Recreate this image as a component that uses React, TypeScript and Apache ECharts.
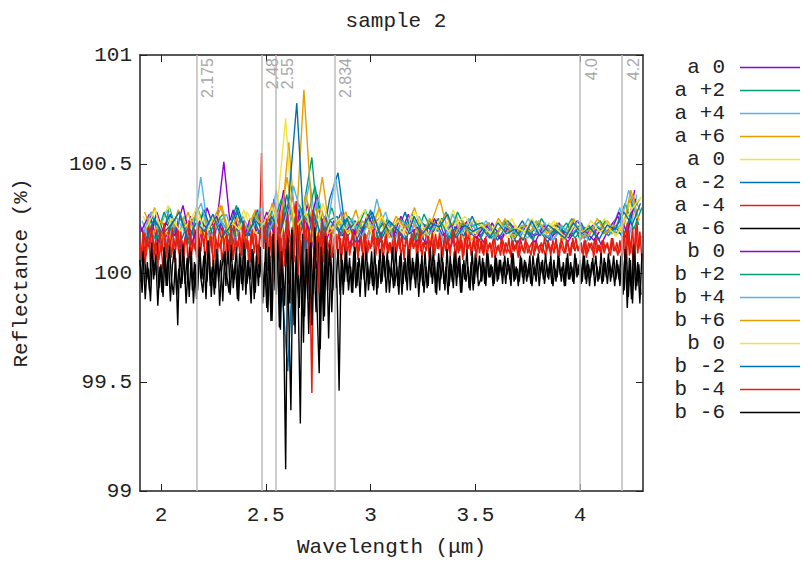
import React, { useEffect, useRef } from "react";
import * as echarts from "echarts";

// ---- wavelength sampling grids (µm) ----
const fineStart = 1.9;
const fineStep = 0.01;
const bShift = 0.005;
const coarseStart = 1.9;
const coarseStep = 0.04;

// ---- legend / series names and colours ----
const seriesNames = [
  "a 0", "a +2", "a +4", "a +6", "a 0\u200b", "a -2", "a -4", "a -6",
  "b 0", "b +2", "b +4", "b +6", "b 0\u200b", "b -2", "b -4", "b -6",
];
const seriesColors = [
  "#9400D3", "#009E73", "#56B4E9", "#E69F00", "#F0E442", "#0072B2", "#E51E10", "#000000",
  "#9400D3", "#009E73", "#56B4E9", "#E69F00", "#F0E442", "#0072B2", "#E51E10", "#000000",
];
// baseline level of each series (hundredths of a percent above 100 %)
const seriesBaseline = [4, 4, 4, 4, 4, 4, -1, 0, 4, 4, 4, 4, 4, 4, -1, 0];
// x shift of each coarse series' grid (µm)
const coarseShift = [0, 0.02, 0.01, 0.03, 0.015, 0.025, 0.005, 0.035, 0.012, 0.022, 0.032, 0.028];

// ---- reflectance deviations, in hundredths of a percent ----
const a0 = [18,8,24,12,20,6,22,10,26,14,47,9,21,13,25, 10,30,4,36,12,28,-2,22, 14,24,9,20,12,22,8,19,13,23,10,18,15,21,7,20,12, 16,10,19,12,17,9,18,13,15,11,19,10,16,12,18,9,17, 22,12,34];
const aP2 = [12,22,9,26,14,19,7,24,11,21,15,27,10,20,13, 25,8,32,14,26,49,6,20, 22,11,18,14,25,9,21,13,17,23,10,20,15,24,12,19,14, 11,18,14,20,10,17,13,19,12,16,14,21,11,18,13,20,15, 14,30,18];
const aP4 = [20,10,16,25,8,22,13,40,12,23,16,9,22,14,20, 12,34,8,26,18,38,10,24, 9,21,15,19,11,30,14,18,10,22,16,13,20,9,18,15,21, 14,17,10,19,13,16,12,20,14,11,18,13,17,10,19,14,16, 26,10,32];
const aP6 = [16,26,11,20,14,24,9,21,17,27,12,22,15,25,10, 28,14,56,6,32,16,40,12, 20,14,25,11,18,22,12,21,16,26,13,19,30,15,22,10,20, 17,12,21,15,18,11,20,14,16,19,13,21,12,17,15,20,13, 20,32,24];
const a0b = [22,14,18,27,11,20,16,24,9,22,18,13,25,15,21, 16,26,67,10,30,14,22,18, 16,23,12,20,17,24,11,19,14,22,18,12,21,16,25,13,19, 20,13,17,15,21,12,18,16,14,20,11,19,15,17,13,21,16, 16,28,20];
const aM2 = [11,20,15,23,8,18,12,25,14,19,10,24,13,21,16, 20,6,-49,28,14,24,8,30, 42,12,20,15,22,10,18,14,24,11,19,16,21,9,17,13,22, 13,19,11,17,14,20,12,16,10,18,15,13,19,11,17,14,18, 12,24,30];
const aM4 = [
  15,6,21,9,24,4,18,11,22,7, 14,3,19,10,23,8,17,12,25,5, 16,9,22,4,19,13,21,8,17,11,
  24,6,15,10,20,3,18,12,23,7, 13,21,5,19,9,24,11,16,6,22, 10,18,4,20,14,23,7,17,56,12,
  26,2,22,8,28,0,20,6,30,4, 24,-4,18,10,32,2,26,-2,22,12, 28,6,-54,24,8,20,0,26,10,18, 4,22,
  8,18,12,21,6,17,10,20,9,15, 13,22,7,18,11,19,8,16,12,21, 9,17,13,20,6,18,11,15,10,22,
  8,16,12,19,7,20,10,17,13,21, 9,18,11,15,14,22,7,17,10,19, 12,20,8,16,11,18,9,21,13,15,
  10,19,7,17,12,20,9,16,11,18,
  10,16,9,17,12,15,8,18,11,14, 9,16,13,10,17,8,15,12,16,9, 14,11,17,10,13,15,9,16,12,14,
  10,17,11,15,9,16,12,14,8,17, 13,10,16,9,15,12,17,11,14,10, 16,8,15,13,11,17,10,14,9,16,
  12,15,10,17,11,13,9,16,
  8,20,6,24,10,22,5,26,12,18,
];
const aM6 = [
  6,-9,12,-4,2,-13,9,-1,14,-7, 4,-11,10,-6,13,-3,-10,7,-24,11, -5,8,-14,3,12,-8,5,-12,15,-2,
  -9,10,-4,13,-11,6,-7,11,-15,2, 9,-6,14,-10,4,-3,12,-13,7,-8, 11,-5,3,-14,10,-9,13,-2,6,-11,
  14,-18,8,-22,17,-10,20,-26,6,-15, 18,-20,-63,12,-28,22,-16,9,-32,15, -12,19,-24,7,-18,14,-35,10,-20,16, -30,8,
  -8,11,-6,-54,9,-10,12,-4,7,-9, 10,-7,5,-11,8,-3,12,-8,4,-6, 11,-10,6,-5,9,-2,10,-9,3,-7,
  12,-6,8,-10,5,-4,11,-8,7,-3, 9,-11,4,-6,10,-7,6,-2,11,-9, 5,-8,12,-5,3,-10,8,-4,10,-6,
  7,-9,4,-3,11,-7,5,-8,9,-2,
  8,-4,5,-6,9,-2,3,-5,7,-3, 6,-5,8,-1,4,-6,9,-3,2,-4, 7,-5,5,-2,8,-6,3,-4,9,-1,
  6,-5,4,-3,8,-6,2,-2,7,-4, 5,-6,9,-3,3,-5,7,-1,6,-4, 8,-5,4,-2,7,-6,3,-3,9,-4,
  5,-5,6,-2,8,-3,4,-6,
  9,-8,12,-11,6,-14,10,-6,4,-10,
];
const b0 = [15,23,10,19,13,27,9,20,16,22,12,25,8,21,14, 24,12,34,6,26,16,32,10, 20,13,18,10,23,15,19,12,22,14,17,9,21,13,18,16,20, 12,18,15,11,19,14,17,10,18,13,16,12,20,15,11,17,14, 24,14,30];
const bP2 = [19,11,24,14,21,9,26,13,18,23,10,20,16,24,12, 18,30,10,28,20,36,14,26, 13,22,16,25,10,19,14,21,18,11,23,15,20,12,24,16,18, 19,12,16,20,13,18,11,21,15,14,19,12,17,16,20,13,18, 28,16,26];
const bP4 = [13,24,17,10,22,15,20,28,12,18,23,11,19,14,26, 14,24,10,36,22,18,30,16, 40,15,21,12,19,16,24,10,20,15,22,13,18,11,23,14,20, 15,20,12,18,16,13,21,14,19,11,17,15,20,12,18,16,14, 18,34,22];
const bP6 = [24,14,20,11,25,17,22,12,19,27,15,21,11,23,18, 22,16,40,12,80,20,26,14, 18,24,11,20,15,26,13,22,17,19,12,21,16,23,14,20,11, 16,19,13,21,12,18,15,20,14,17,11,19,16,13,21,14,18, 15,34,20];
const b0b = [17,25,12,21,15,19,26,13,22,10,20,16,24,14,19, 26,12,30,18,24,8,28,16, 21,14,19,25,12,22,16,20,13,24,17,11,21,15,19,22,14, 18,14,20,12,17,15,21,13,19,16,12,18,14,20,15,17,13, 20,26,31];
const bM2 = [10,21,14,18,24,11,19,15,23,12,17,26,13,20,9, 22,14,28,74,6,24,12,20, 15,21,10,18,24,13,20,16,11,22,14,19,17,23,12,18,15, 17,12,19,14,16,11,20,13,18,15,12,19,14,17,11,18,16, 24,18,28];
const bM4 = [
  8,20,5,17,12,23,7,16,4,21, 11,24,8,18,13,22,6,19,10,20, 5,17,14,25,9,16,11,23,7,19,
  13,21,6,18,10,24,8,15,12,22, 4,19,11,23,7,17,13,20,9,25, 12,16,6,21,10,18,5,22,13,19,
  26,4,18,-2,24,8,30,-6,20,12, 28,2,22,6,34,0,16,8,26,-4, 20,10,30,4,18,-8,24,6,22,12, 16,8,
  12,19,7,17,10,21,9,15,12,20, 8,16,11,18,6,19,10,14,13,21, 9,17,7,16,12,19,10,15,8,18,
  11,20,9,14,13,17,7,19,12,16, 10,21,8,15,11,18,13,20,9,16, 12,17,8,19,10,14,13,21,7,18,
  11,16,9,20,12,15,10,18,8,17,
  15,10,17,9,14,12,16,8,13,11, 17,9,15,12,10,16,11,14,8,17, 12,10,15,13,9,16,11,14,10,15,
  12,9,16,11,14,10,17,8,15,12, 10,16,13,9,17,11,14,12,15,9, 16,10,13,15,8,17,12,11,16,10,
  14,12,9,17,11,15,10,13,
  18,5,24,9,16,4,22,10,20,7,
];
const bM6 = [
  -4,10,-12,5,-8,14,-3,8,-15,3, -9,12,-6,9,-13,4,11,-10,2,-7, 13,-5,7,-11,10,-14,4,-8,12,-3,
  8,-12,15,-6,3,-10,11,-4,6,-13, 10,-2,-9,13,-7,5,-12,9,-5,14, -10,6,-3,11,-12,8,-6,12,-14,5,
  -16,12,-22,18,-8,15,-25,10,-18,-90, 16,-14,20,-24,8,-12,-69,18,-20,11, -28,14,-10,21,-16,-46,12,-22,17,-8, 13,-18,
  9,-7,11,-10,6,-4,10,-8,3,-9, 12,-6,7,-3,9,-11,5,-5,10,-8, 4,-7,11,-4,8,-9,6,-2,12,-6,
  3,-10,9,-5,7,-8,11,-3,5,-7, 10,-4,8,-9,3,-6,12,-5,6,-10, 9,-3,5,-8,11,-6,4,-7,10,-2,
  8,-9,6,-4,3,-8,10,-5,7,-6,
  -3,7,-5,9,-2,4,-6,8,-4,6, -1,5,-5,7,-3,9,-4,3,-6,8, -2,6,-4,4,-5,8,-1,7,-6,5,
  -3,9,-2,5,-5,6,-4,8,-1,3, -6,7,-3,5,-4,9,-2,4,-5,8, -3,6,-6,5,-1,8,-4,3,-5,7,
  -2,9,-4,4,-6,6,-3,8,
  -10,11,-16,7,-12,13,-8,5,-14,9,
];

// ---- reference lines ----
const refLines = [2.175, 2.48, 2.55, 2.834, 4.0, 4.2];
const refLabels = ["2.175", "2.48", "2.55", "2.834", "4.0", "4.2"];

// ---- axis ticks ----
const xTicks = [2, 2.5, 3, 3.5, 4];
const yTicks = [99, 99.5, 100, 100.5, 101];

const MONO = "'Liberation Mono', 'DejaVu Sans Mono', monospace";

type Spec = { values: number[]; start: number; step: number; width: number };

function buildSpecs(): Spec[] {
  const coarse = [a0, aP2, aP4, aP6, a0b, aM2];
  const coarseB = [b0, bP2, bP4, bP6, b0b, bM2];
  const specs: Spec[] = [];
  coarse.forEach((v, k) => specs.push({ values: v, start: coarseStart + coarseShift[k], step: coarseStep, width: 1.4 }));
  specs.push({ values: aM4, start: fineStart, step: fineStep, width: 1.5 });
  specs.push({ values: aM6, start: fineStart, step: fineStep, width: 1.4 });
  coarseB.forEach((v, k) => specs.push({ values: v, start: coarseStart + coarseShift[k + 6], step: coarseStep, width: 1.4 }));
  specs.push({ values: bM4, start: fineStart + bShift, step: fineStep, width: 1.5 });
  specs.push({ values: bM6, start: fineStart + bShift, step: fineStep, width: 1.4 });
  return specs;
}

function buildOption() {
  const specs = buildSpecs();
  const series: any[] = specs.map((s, idx) => {
    const base = seriesBaseline[idx];
    const data = s.values.map((v, i) => [
      +(s.start + i * s.step).toFixed(4),
      +(100 + (base + v) / 100).toFixed(4),
    ]);
    const ser: any = {
      type: "line",
      name: seriesNames[idx],
      data,
      showSymbol: false,
      symbol: "none",
      color: seriesColors[idx],
      lineStyle: { width: s.width, color: seriesColors[idx] },
      xAxisIndex: 0,
      yAxisIndex: 0,
      silent: true,
    };
    if (idx === 0) {
      ser.markLine = {
        silent: true,
        symbol: "none",
        animation: false,
        lineStyle: { color: "#bdbdbd", width: 1.5, type: "solid" },
        label: {
          show: true,
          position: "insideEndBottom",
          color: "#a8a8a8",
          fontSize: 16,
          fontFamily: "'Liberation Sans', Arial, sans-serif",
          distance: 3,
        },
        data: refLines.map((v, i) => ({
          xAxis: v,
          label: { formatter: refLabels[i] },
        })),
      };
    }
    return ser;
  });

  const axisText = { color: "#222", fontSize: 21, fontFamily: MONO };

  return {
    animation: false,
    backgroundColor: "#ffffff",
    title: {
      text: "sample 2",
      left: 391,
      top: 6,
      textAlign: "center",
      textStyle: { ...axisText, fontWeight: "normal" },
    },
    grid: { left: 140, right: 161, top: 55, bottom: 70, show: false },
    legend: {
      orient: "vertical",
      right: 4,
      top: 56,
      padding: 0,
      align: "right",
      icon: "rect",
      itemWidth: 60,
      itemHeight: 1.5,
      itemGap: 0,
      selectedMode: false,
      data: seriesNames,
      formatter: (name: string) => name.replace("\u200b", ""),
      textStyle: { ...axisText, lineHeight: 23, padding: [0, 10, 0, 0] },
    },
    xAxis: [
      {
        type: "value",
        min: 1.9,
        max: 4.3,
        name: "Wavelength (\u03bcm)",
        nameLocation: "middle",
        nameGap: 46,
        nameTextStyle: axisText,
        axisLine: { show: true, lineStyle: { color: "#222", width: 1.5 } },
        axisTick: { show: true, inside: true, length: 7, customValues: xTicks, lineStyle: { color: "#222" } },
        axisLabel: { ...axisText, margin: 14, customValues: xTicks, formatter: (v: number) => String(v) },
        splitLine: { show: false },
      },
      {
        type: "value",
        position: "top",
        min: 1.9,
        max: 4.3,
        axisLine: { show: true, lineStyle: { color: "#222", width: 1.5 } },
        axisTick: { show: true, inside: true, length: 7, customValues: xTicks, lineStyle: { color: "#222" } },
        axisLabel: { show: false },
        splitLine: { show: false },
      },
    ],
    yAxis: [
      {
        type: "value",
        min: 99,
        max: 101,
        interval: 0.5,
        name: "Reflectance (%)",
        nameLocation: "middle",
        nameGap: 108,
        nameTextStyle: axisText,
        axisLine: { show: true, lineStyle: { color: "#222", width: 1.5 } },
        axisTick: { show: true, inside: true, length: 7, lineStyle: { color: "#222" } },
        axisLabel: { ...axisText, margin: 8, customValues: yTicks, formatter: (v: number) => String(v) },
        splitLine: { show: false },
      },
      {
        type: "value",
        position: "right",
        min: 99,
        max: 101,
        interval: 0.5,
        axisLine: { show: true, lineStyle: { color: "#222", width: 1.5 } },
        axisTick: { show: true, inside: true, length: 7, lineStyle: { color: "#222" } },
        axisLabel: { show: false },
        splitLine: { show: false },
      },
    ],
    series,
  };
}

export default function App() {
  const ref = useRef<HTMLDivElement>(null);
  useEffect(() => {
    if (!ref.current) return;
    const chart = echarts.init(ref.current, null, { renderer: "svg" });
    chart.setOption(buildOption() as any);
    return () => chart.dispose();
  }, []);
  return (
    <div
      ref={ref}
      style={{ position: "fixed", left: 0, top: 0, width: 804, height: 563, background: "#fff" }}
    />
  );
}
